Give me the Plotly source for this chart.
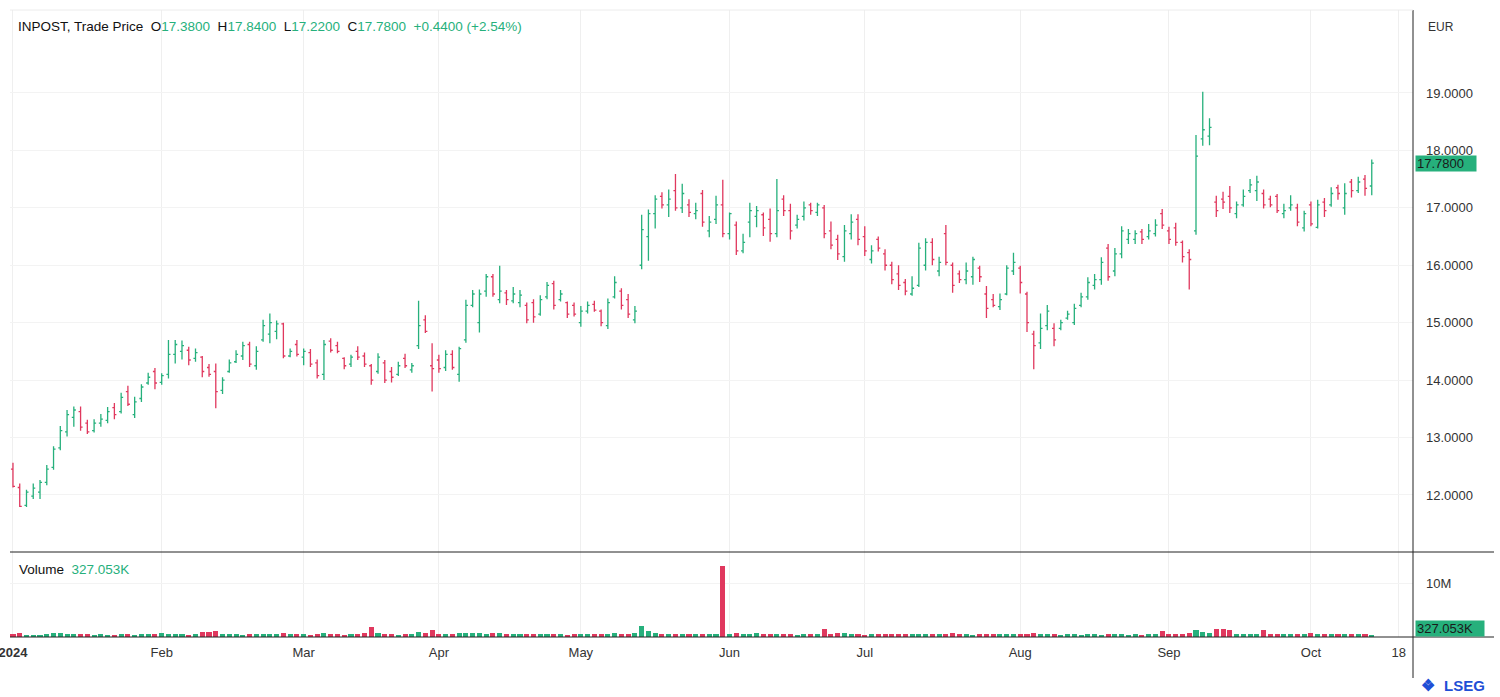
import pandas as pd
import plotly.graph_objects as go

# ---------------- data ----------------
holidays = ["2024-01-01", "2024-03-29", "2024-04-01", "2024-05-01"]
all_days = pd.bdate_range("2024-01-02", "2024-10-25", freq="C", holidays=holidays)
categories = [d.strftime("%Y-%m-%d") for d in all_days]

opens = [
    12.45, 12.13, 11.82, 11.98, 12.05, 12.22, 12.48, 12.82, 13.10, 13.35, 13.45, 13.25, 13.12, 13.25, 13.30, 13.52, 13.45, 13.80, 13.40, 13.68, 13.95, 14.15,
    13.96, 14.10, 14.45, 14.50, 14.52, 14.38, 14.40, 14.22, 14.15, 13.82, 14.15, 14.32, 14.42, 14.62, 14.25, 14.70, 14.80, 14.85, 14.98,
    14.42, 14.62, 14.40, 14.48, 14.30, 14.10, 14.68, 14.60, 14.38, 14.28, 14.50, 14.42, 14.25, 14.15, 14.30, 14.15, 14.10, 14.38, 14.18, 14.60, 15.05, 14.25,
    14.35, 14.22, 14.45, 14.10, 14.70, 15.30, 15.00, 15.55, 15.80, 15.40, 15.52, 15.38, 15.35, 15.30, 15.35, 15.15, 15.45, 15.68, 15.40, 15.35, 15.30,
    15.00, 15.20, 15.32, 15.20, 14.95, 15.45, 15.55, 15.40, 15.05, 16.00, 16.50, 16.90, 17.20, 17.05, 17.30, 17.00, 17.05, 16.90, 17.25, 16.60, 16.80, 17.05,
    16.55, 16.70, 16.25, 16.75, 16.85, 16.88, 16.80, 16.55, 17.15, 16.95, 16.70, 16.85, 17.05, 16.92, 17.00, 16.60, 16.45, 16.15, 16.55, 16.80,
    16.50, 16.10, 16.45, 16.20, 16.00, 15.85, 15.70, 15.50, 15.65, 16.00, 16.40, 15.90, 16.55, 16.00, 15.85, 15.75, 15.80, 15.95, 15.50, 15.40, 15.28, 15.50, 15.90,
    15.95, 15.50, 14.80, 14.65, 14.95, 14.90, 14.90, 15.08, 15.00, 15.30, 15.45, 15.65, 15.75, 16.30, 15.90, 16.20, 16.45, 16.45, 16.58, 16.50, 16.55, 16.90,
    16.60, 16.65, 16.40, 16.22, 16.60, 18.20, 18.25, 17.10, 17.15, 17.20, 16.90, 17.05, 17.30, 17.30, 17.25, 17.15, 17.20, 16.90, 17.00, 17.00, 16.65,
    17.05, 16.66, 17.10, 17.05, 17.35, 17.00, 17.45, 17.30, 17.50, 17.38,
]
highs = [
    12.56, 12.20, 12.09, 12.20, 12.26, 12.52, 12.85, 13.20, 13.48, 13.54, 13.54, 13.31, 13.32, 13.41, 13.53, 13.60, 13.78, 13.90, 13.71, 13.93, 14.13, 14.21,
    14.12, 14.70, 14.70, 14.69, 14.58, 14.55, 14.42, 14.28, 14.29, 14.05, 14.36, 14.52, 14.67, 14.67, 14.59, 15.05, 15.16, 15.04, 15.00,
    14.55, 14.70, 14.55, 14.54, 14.36, 14.70, 14.73, 14.67, 14.40, 14.44, 14.59, 14.48, 14.28, 14.47, 14.35, 14.23, 14.32, 14.46, 14.30, 15.38, 15.13, 14.64,
    14.44, 14.52, 14.52, 14.58, 15.40, 15.57, 15.58, 15.85, 15.85, 15.99, 15.57, 15.62, 15.57, 15.35, 15.41, 15.48, 15.71, 15.73, 15.57, 15.37, 15.35,
    15.29, 15.37, 15.38, 15.23, 15.42, 15.81, 15.60, 15.50, 15.29, 16.88, 16.97, 17.22, 17.27, 17.32, 17.59, 17.42, 17.15, 17.09, 17.31, 16.86, 17.21, 17.49,
    16.92, 16.76, 16.55, 17.09, 17.03, 16.92, 16.99, 17.50, 17.22, 17.07, 16.88, 17.11, 17.09, 17.09, 17.05, 16.76, 16.53, 16.70, 16.89, 16.89,
    16.68, 16.35, 16.50, 16.28, 16.06, 16.00, 15.76, 15.81, 16.39, 16.47, 16.47, 16.15, 16.70, 16.05, 15.91, 16.05, 16.15, 15.99, 15.64, 15.50, 15.51, 16.00, 16.22,
    15.99, 15.54, 14.86, 15.16, 15.31, 14.99, 15.05, 15.21, 15.33, 15.52, 15.79, 15.85, 16.14, 16.37, 16.30, 16.68, 16.63, 16.61, 16.63, 16.72, 16.80, 16.98,
    16.67, 16.74, 16.43, 16.28, 18.27, 19.02, 18.56, 17.21, 17.28, 17.38, 17.11, 17.32, 17.50, 17.56, 17.32, 17.21, 17.24, 17.07, 17.22, 17.07, 16.95,
    17.11, 17.14, 17.17, 17.36, 17.40, 17.43, 17.50, 17.54, 17.57, 17.84,
]
lows = [
    12.13, 11.79, 11.79, 11.93, 11.93, 12.17, 12.44, 12.78, 13.02, 13.19, 13.12, 13.06, 13.09, 13.19, 13.25, 13.32, 13.42, 13.55, 13.34, 13.62, 13.92, 13.84,
    13.92, 14.03, 14.29, 14.36, 14.26, 14.32, 14.05, 14.06, 13.51, 13.76, 14.13, 14.30, 14.35, 14.23, 14.18, 14.67, 14.64, 14.71, 14.38,
    14.40, 14.41, 14.26, 14.23, 14.03, 14.00, 14.48, 14.47, 14.19, 14.23, 14.35, 14.23, 13.92, 14.11, 13.95, 13.96, 14.07, 14.21, 14.13, 14.54, 14.82, 13.80,
    14.13, 14.16, 14.18, 13.97, 14.65, 15.27, 14.83, 15.45, 15.45, 15.34, 15.31, 15.34, 15.27, 14.99, 15.00, 15.12, 15.41, 15.23, 15.37, 15.08, 15.11,
    14.93, 15.16, 15.19, 14.94, 14.89, 15.42, 15.23, 15.08, 14.99, 15.93, 16.08, 16.64, 16.99, 16.84, 16.95, 16.91, 16.84, 16.80, 16.67, 16.49, 16.72, 16.49,
    16.45, 16.18, 16.21, 16.49, 16.66, 16.51, 16.41, 16.49, 16.86, 16.45, 16.64, 16.78, 16.88, 16.86, 16.47, 16.28, 16.09, 16.06, 16.45, 16.35,
    16.16, 16.03, 16.24, 15.91, 15.67, 15.57, 15.48, 15.47, 15.62, 15.91, 16.00, 15.81, 16.00, 15.52, 15.69, 15.67, 15.66, 15.71, 15.08, 15.27, 15.22, 15.48, 15.83,
    15.51, 14.84, 14.19, 14.54, 14.87, 14.59, 14.87, 15.05, 14.96, 15.27, 15.40, 15.58, 15.66, 15.73, 15.81, 16.12, 16.37, 16.37, 16.37, 16.45, 16.50, 16.63,
    16.37, 16.34, 16.05, 15.58, 16.53, 18.08, 18.09, 16.84, 16.98, 16.91, 16.82, 17.02, 17.26, 17.12, 16.99, 17.01, 16.91, 16.82, 16.95, 16.68, 16.59,
    16.68, 16.64, 16.84, 17.02, 17.14, 16.88, 17.18, 17.26, 17.21, 17.22,
]
closes = [
    12.15, 11.80, 12.05, 12.12, 12.22, 12.45, 12.80, 13.12, 13.40, 13.48, 13.18, 13.10, 13.25, 13.32, 13.45, 13.40, 13.70, 13.58, 13.62, 13.88, 14.05, 13.95,
    14.08, 14.45, 14.62, 14.60, 14.35, 14.48, 14.15, 14.10, 13.80, 14.00, 14.30, 14.45, 14.60, 14.28, 14.50, 14.95, 15.00, 14.98, 14.42,
    14.50, 14.45, 14.50, 14.28, 14.08, 14.62, 14.52, 14.50, 14.25, 14.40, 14.40, 14.28, 14.00, 14.40, 14.00, 14.05, 14.25, 14.25, 14.25, 14.95, 14.85, 14.20,
    14.20, 14.45, 14.22, 14.55, 15.30, 15.50, 15.50, 15.80, 15.50, 15.55, 15.40, 15.50, 15.48, 15.05, 15.10, 15.40, 15.65, 15.30, 15.50, 15.15, 15.15,
    15.20, 15.30, 15.22, 15.00, 15.35, 15.70, 15.30, 15.15, 15.20, 16.62, 16.90, 17.15, 17.05, 17.15, 17.00, 17.25, 16.92, 16.95, 16.75, 16.75, 17.05, 16.55,
    16.90, 16.25, 16.40, 16.95, 16.95, 16.65, 16.55, 16.95, 16.95, 16.60, 16.80, 17.00, 16.95, 17.05, 16.55, 16.35, 16.20, 16.60, 16.75, 16.45,
    16.25, 16.25, 16.30, 16.00, 15.75, 15.65, 15.55, 15.60, 16.30, 16.40, 16.10, 16.05, 16.05, 15.65, 15.75, 15.90, 16.10, 15.80, 15.25, 15.30, 15.40, 15.95, 16.05,
    15.70, 15.00, 14.60, 14.90, 15.20, 14.70, 15.00, 15.15, 15.25, 15.45, 15.70, 15.75, 16.05, 15.80, 16.20, 16.60, 16.55, 16.55, 16.45, 16.60, 16.70, 16.70,
    16.45, 16.40, 16.15, 16.10, 17.90, 18.36, 18.40, 16.95, 17.10, 17.00, 17.05, 17.20, 17.40, 17.45, 17.05, 17.05, 16.95, 16.95, 17.05, 16.75, 16.90,
    16.72, 17.05, 16.95, 17.25, 17.25, 17.25, 17.30, 17.45, 17.34, 17.78,
]
volumes_m = [
    0.62, 0.71, 0.45, 0.38, 0.42, 0.55, 0.68, 0.66, 0.61, 0.58, 0.52, 0.47, 0.44, 0.50, 0.41, 0.46, 0.53, 0.49, 0.43, 0.57, 0.52, 0.63,
    0.70, 0.58, 0.55, 0.48, 0.44, 0.52, 0.95, 0.98, 1.02, 0.60, 0.55, 0.48, 0.45, 0.52, 0.47, 0.54, 0.58, 0.62, 0.66, 0.48, 0.55,
    0.50, 0.44, 0.58, 0.72, 0.55, 0.50, 0.45, 0.52, 0.61, 0.68, 1.85, 0.72, 0.55, 0.50, 0.46, 0.52, 0.60, 0.92, 0.70, 1.35,
    0.62, 0.58, 0.55, 0.70, 0.78, 0.65, 0.72, 0.62, 0.68, 0.66, 0.60, 0.58, 0.50, 0.48, 0.55, 0.52, 0.62, 0.55, 0.50, 0.45, 0.52,
    0.60, 0.55, 0.50, 0.48, 0.58, 0.65, 0.55, 0.60, 0.72, 1.96, 1.05, 0.68, 0.52, 0.60, 0.55, 0.50, 0.58, 0.52, 0.55, 0.60, 0.62, 13.2,
    0.52, 0.75, 0.55, 0.58, 0.68, 0.50, 0.55, 0.62, 0.58, 0.48, 0.45, 0.50, 0.56, 0.62, 1.50, 0.48, 0.72, 0.66, 0.60, 0.50,
    0.42, 0.52, 0.62, 0.55, 0.50, 0.48, 0.55, 0.60, 0.62, 0.64, 0.58, 0.52, 0.56, 0.70, 0.62, 0.50, 0.45, 0.48, 0.52, 0.55, 0.50, 0.58, 0.52,
    0.55, 0.58, 0.80, 0.62, 0.55, 0.48, 0.45, 0.47, 0.50, 0.45, 0.52, 0.48, 0.45, 0.55, 0.50, 0.48, 0.46, 0.50, 0.44, 0.47, 0.50, 1.20,
    0.58, 0.55, 0.62, 0.70, 1.35, 0.90, 0.82, 1.40, 1.42, 1.38, 0.55, 0.52, 0.58, 0.60, 1.35, 0.62, 0.55, 0.58, 0.60, 0.62, 0.55,
    0.65, 0.60, 0.55, 0.52, 0.58, 0.55, 0.62, 0.52, 0.55, 0.327053,
]
dates = categories[:len(closes)]

tick_dates = ["2024-01-02", "2024-02-01", "2024-03-01", "2024-04-02", "2024-05-02",
              "2024-06-03", "2024-07-01", "2024-08-01", "2024-09-02", "2024-10-01", "2024-10-18"]
tick_labels = ["<b>2024</b>", "Feb", "Mar", "Apr", "May", "Jun", "Jul", "Aug", "Sep", "Oct", "18"]
price_ticks = [12, 13, 14, 15, 16, 17, 18, 19]

# ---------------- style ----------------
INC = "#26b07c"
DEC = "#e0385e"
TXT = "#333333"
GRID = "#efefef"
FONT = "Liberation Sans, Arial, sans-serif"
W, H = 1500, 697

def px(xp):
    return xp / W

def py(yp):
    return (H - yp) / H

vol_colors = [INC if c >= o else DEC for o, c in zip(opens, closes)]

fig = go.Figure()
fig.add_trace(go.Ohlc(
    x=dates, open=opens, high=highs, low=lows, close=closes,
    increasing=dict(line=dict(color=INC, width=1.3)),
    decreasing=dict(line=dict(color=DEC, width=1.3)),
    tickwidth=0.3, xaxis="x", yaxis="y", hoverinfo="skip",
))
fig.add_trace(go.Bar(
    x=dates, y=volumes_m, marker=dict(color=vol_colors, line=dict(width=0)),
    width=0.75, xaxis="x2", yaxis="y2", hoverinfo="skip",
))

xdom = [px(10), px(1413)]
xrange_ = [-0.44, 207.1]
fig.update_layout(
    width=W, height=H, margin=dict(l=0, r=0, t=0, b=0, autoexpand=False),
    paper_bgcolor="white", plot_bgcolor="white", showlegend=False,
    hovermode=False, font=dict(family=FONT, color=TXT, size=13),
    xaxis=dict(domain=xdom, anchor="y", type="category", categoryorder="array",
               categoryarray=categories, range=xrange_, tickvals=tick_dates,
               showticklabels=False, showgrid=True, gridcolor=GRID, zeroline=False,
               rangeslider=dict(visible=False), showline=False, ticks="",
               automargin=False),
    xaxis2=dict(domain=xdom, anchor="y2", type="category", categoryorder="array",
                categoryarray=categories, range=xrange_, matches="x",
                tickvals=tick_dates, ticktext=tick_labels, showgrid=True, gridcolor=GRID,
                zeroline=False, ticks="", ticklabelstandoff=6, automargin=False,
                tickfont=dict(size=13, color=TXT)),
    yaxis=dict(domain=[py(552), py(10)], anchor="x", side="right",
               range=[11.007, 20.445], tickvals=price_ticks, tickformat=".4f",
               showgrid=True, gridcolor="#f3f3f3", zeroline=False, ticks="",
               ticklabelstandoff=12, automargin=False, tickfont=dict(size=13, color=TXT)),
    yaxis2=dict(domain=[py(637), py(552)], anchor="x2", side="right",
                range=[0, 15.74], tickvals=[10], ticktext=["10M"],
                showgrid=True, gridcolor="#f3f3f3", zeroline=False, ticks="",
                ticklabelstandoff=12, automargin=False, tickfont=dict(size=13, color=TXT)),
    bargap=0,
)

# pane separators and axis line
shapes = [
    dict(type="line", xref="paper", yref="paper", x0=px(1413), x1=px(1413), y0=py(678), y1=py(10),
         line=dict(color="#222222", width=1)),
    dict(type="line", xref="paper", yref="paper", x0=px(10), x1=px(1494), y0=py(552), y1=py(552),
         line=dict(color="#222222", width=1)),
    dict(type="line", xref="paper", yref="paper", x0=px(10), x1=px(1494), y0=py(637), y1=py(637),
         line=dict(color="#222222", width=1)),
    dict(type="line", xref="paper", yref="paper", x0=px(10), x1=px(1413), y0=py(10), y1=py(10),
         line=dict(color="#ececec", width=1)),
]
fig.update_layout(shapes=shapes)

last_o, last_h, last_l, last_c = opens[-1], highs[-1], lows[-1], closes[-1]
chg = last_c - closes[-2]
pct = chg / closes[-2] * 100
g = lambda s: f"<span style='color:{INC}'>{s}</span>"
sp = "&nbsp;&nbsp;"
header = ("INPOST, Trade Price" + sp + "O" + g(f"{last_o:.4f}") + sp + "H" + g(f"{last_h:.4f}")
          + sp + "L" + g(f"{last_l:.4f}") + sp + "C" + g(f"{last_c:.4f}") + sp
          + g(f"{chg:+.4f} ({pct:+.2f}%)"))
vol_last = volumes_m[-1] * 1000

annotations = [
    dict(xref="paper", yref="paper", x=px(16), y=py(27), xanchor="left", yanchor="middle",
         text=header, showarrow=False, font=dict(size=13.5, color="#111111")),
    dict(xref="paper", yref="paper", x=px(17), y=py(569), xanchor="left", yanchor="middle",
         text="Volume" + sp + g(f"{vol_last:.3f}K"), showarrow=False,
         font=dict(size=13.5, color="#111111")),
    dict(xref="paper", yref="paper", x=px(1426), y=py(27), xanchor="left", yanchor="middle",
         text="EUR", showarrow=False, font=dict(size=12, color=TXT)),
    dict(xref="paper", yref="y", x=px(1415), y=last_c, xanchor="left", yanchor="middle",
         text=f"{last_c:.4f}", showarrow=False, bgcolor=INC, width=58, height=13,
         align="left", font=dict(size=13, color="#1a1a1a")),
    dict(xref="paper", yref="y2", x=px(1415), y=0, xanchor="left", yanchor="bottom",
         text=f"{vol_last:.3f}K", showarrow=False, bgcolor=INC, width=66, height=13,
         align="left", font=dict(size=13, color="#1a1a1a")),
    dict(xref="paper", yref="paper", x=px(1487), y=py(685), xanchor="right", yanchor="middle",
         text="<b>LSEG</b>", showarrow=False, font=dict(size=15, color="#1f4fd6")),
    dict(xref="paper", yref="paper", x=px(1428), y=py(685), xanchor="center", yanchor="middle",
         text="<b>❖</b>", showarrow=False, font=dict(size=16, color="#1f4fd6")),
]
fig.update_layout(annotations=annotations)

fig.write_html("out.html")
